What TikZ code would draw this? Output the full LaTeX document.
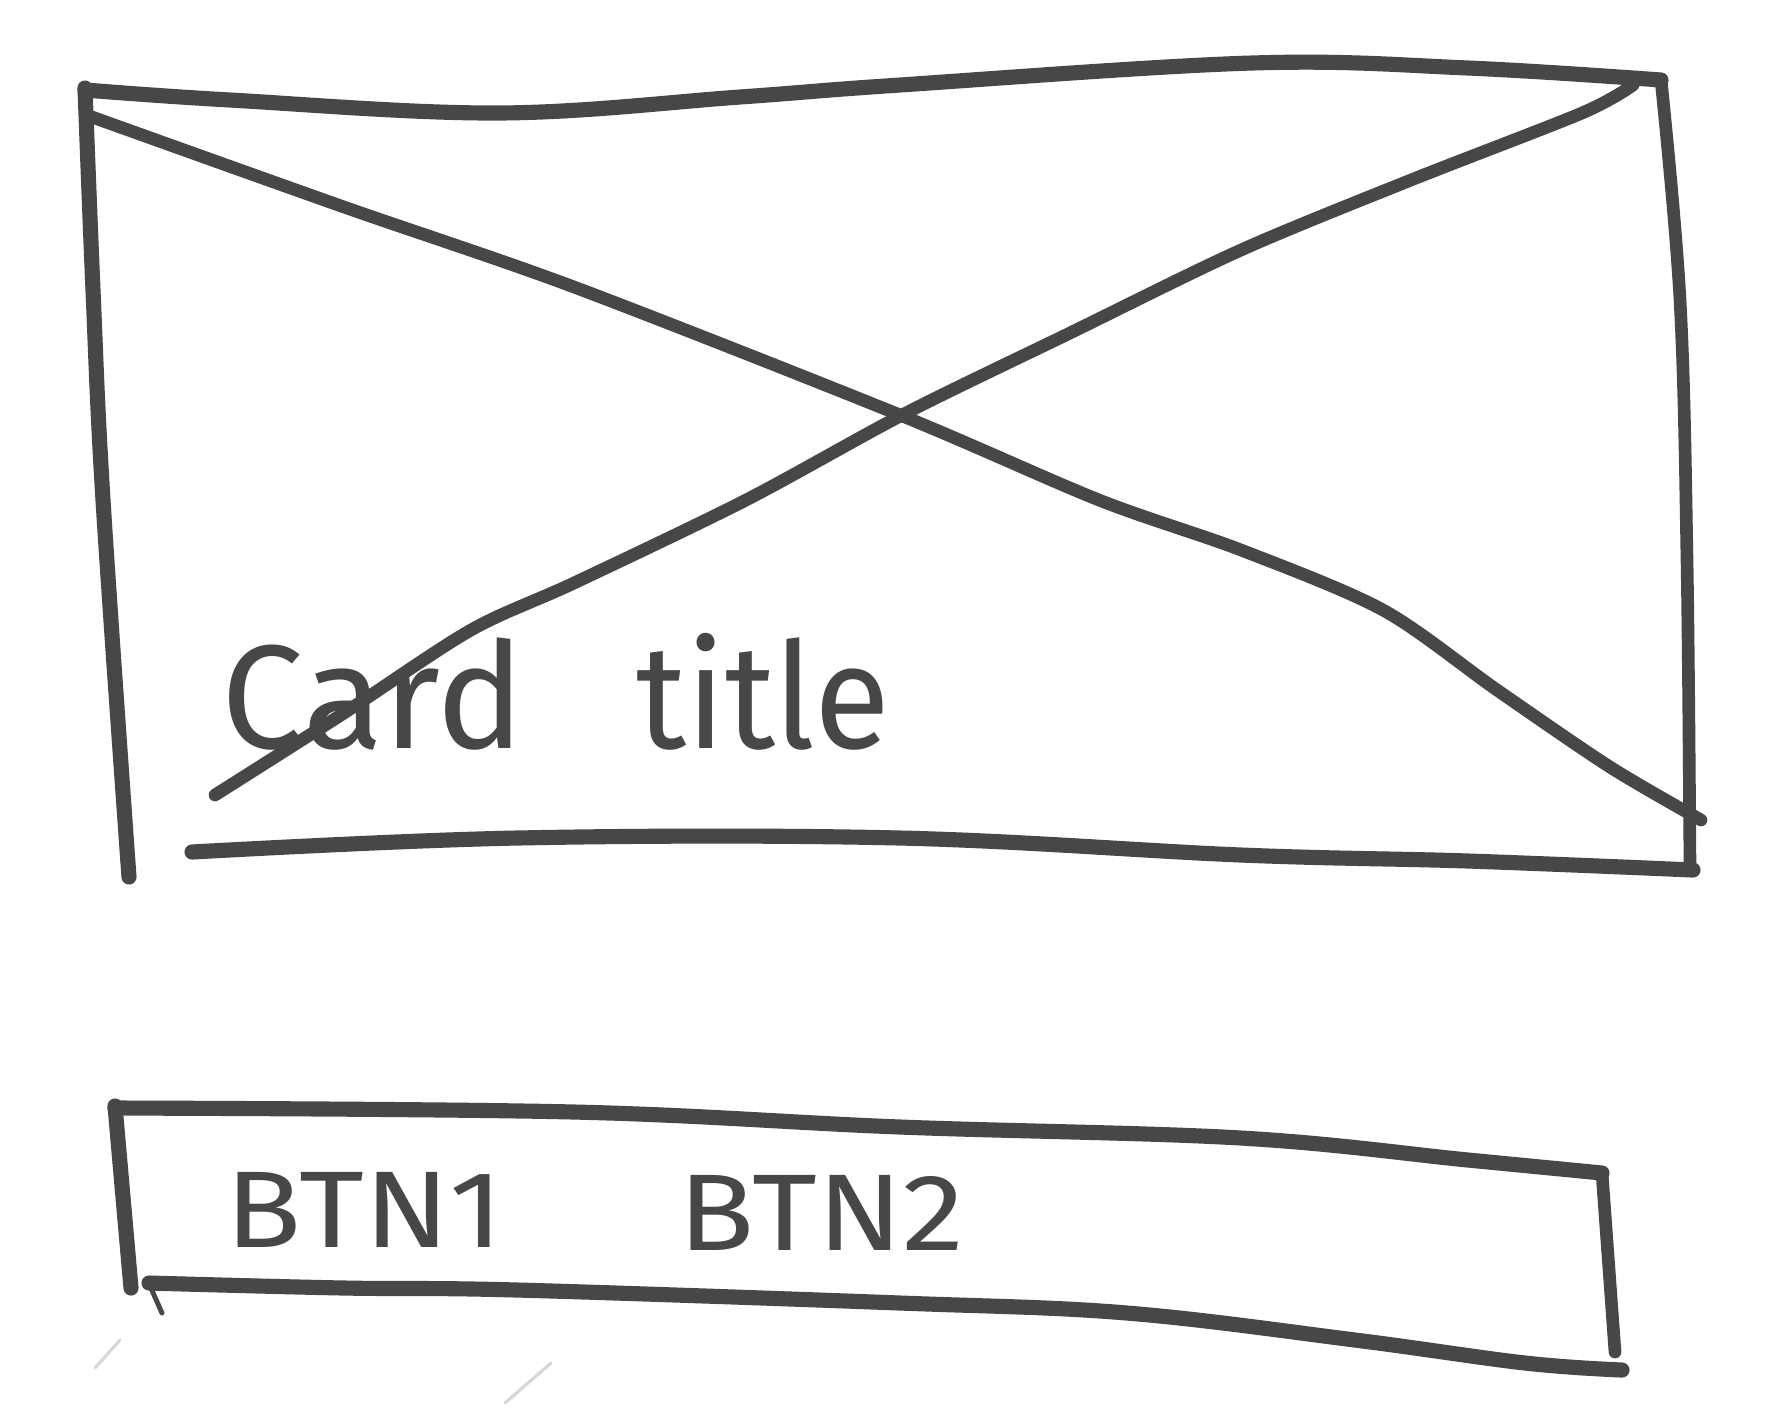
\documentclass[tikz,border=0pt]{standalone}
\usepackage{fontspec}
\setmainfont{Fira Sans}
\definecolor{ink}{HTML}{474747}
\begin{document}
\begin{tikzpicture}[x=0.01cm,y=-0.01cm,
  pen/.style={draw=ink,line width=4.3pt,line cap=round,line join=round},
  thinpen/.style={pen,line width=3.6pt},
  tick/.style={draw=ink,line width=1.4pt,line cap=round},
  faint/.style={draw=ink!22,line width=0.9pt,line cap=round},
  lbl/.style={text=ink,inner sep=0pt,anchor=base west}]
\useasboundingbox[fill=white] (0,0) rectangle (1791,1408);

% card image placeholder: frame
\draw[pen] plot[smooth,tension=0.6] coordinates {(85,90) (230,100) (499,113) (740,97) (900,85) (1252,63) (1468,68) (1661,80)};
\draw[pen] plot[smooth,tension=0.6] coordinates {(85,88) (93,290) (103,500) (129,877)};
\draw[thinpen] plot[smooth,tension=0.6] coordinates {(1661,80) (1680,300) (1687,560) (1690,870)};
\draw[pen] plot[smooth,tension=0.6] coordinates {(192,852) (517,838) (900,838) (1241,855) (1468,861) (1693,870)};

% crossed diagonals
\draw[thinpen] plot[smooth,tension=0.5] coordinates {(92,117) (344,207) (574,287) (900,415) (1099,500) (1241,550) (1383,610) (1497,690) (1610,767) (1701,820)};
\draw[thinpen] plot[smooth,tension=0.5] coordinates {(1633,85) (1582,113) (1411,180) (1241,250) (1070,333) (906,413) (746,500) (574,583) (471,630) (344,713) (215,795)};

\node[lbl,font=\fontsize{42}{50}\selectfont] (title) at (221,748) {Card\hspace{32pt}\scalebox{0.94}[1]{title}};

% button bar
\draw[pen] plot[smooth,tension=0.6] coordinates {(115,1108) (574,1112) (900,1127) (1241,1138) (1468,1160) (1602,1173)};
\draw[pen] (115,1106) -- (131,1288);
\draw[thinpen] (1602,1173) -- (1615,1352);
\draw[pen] plot[smooth,tension=0.6] coordinates {(149,1283) (344,1288) (517,1290) (900,1303) (1127,1313) (1355,1340) (1525,1363) (1622,1370)};
\draw[tick] (150,1286) -- (162,1313);

\node[lbl,font=\fontsize{31}{36}\selectfont] (btn1) at (225,1247) {\scalebox{1.15}[1]{BTN1}};
\node[lbl,font=\fontsize{31}{36}\selectfont] (btn2) at (678,1250) {\scalebox{1.15}[1]{BTN2}};

% stray pencil marks
\draw[faint] (95,1368) -- (120,1340);
\draw[faint] (505,1403) -- (551,1363);
\end{tikzpicture}
\end{document}
